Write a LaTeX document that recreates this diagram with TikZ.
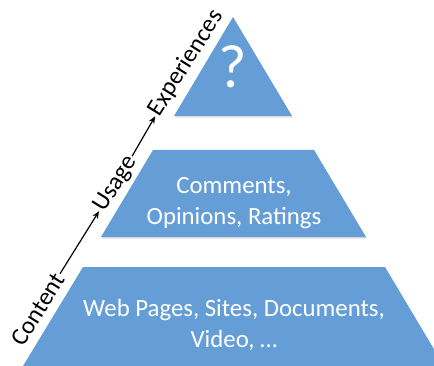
\documentclass[tikz,border=0pt]{standalone}
\usepackage{fontspec}
\setmainfont{Carlito}
\usepackage{xcolor}
\usetikzlibrary{arrows.meta, shadows}
\definecolor{tierblue}{RGB}{101,158,215}

\begin{document}
\begin{tikzpicture}[
    x=0.75pt, y=-0.75pt,
    tier/.style={fill=tierblue, draw=none, drop shadow={opacity=0.25, shadow xshift=0.6pt, shadow yshift=-1.2pt}},
    tiertext/.style={text=white, align=center, font=\fontsize{18.6}{23}\selectfont},
    steplabel/.style={rotate=58, inner sep=1pt, font=\fontsize{18.5}{22}\selectfont},
    arrow/.style={-{Stealth[length=5.5pt, width=4.5pt]}, line width=0.9pt}
]
\clip (0,0) rectangle (434,366);
% pyramid tiers
\path[tier] (233,17) -- (292,116) -- (174,116) -- cycle;
\path[tier] (153,150) -- (314,150) -- (366,237) -- (101,237) -- cycle;
\path[tier] (83,267) -- (385,267) -- (444,366) -- (23,366) -- cycle;
\node[tiertext, font=\fontsize{46}{50}\selectfont] (top) at (233,67) {?};
\node[tiertext] (mid) at (234,203) {Comments,\\Opinions, Ratings};
\node[tiertext] (base) at (234,325) {Web Pages, Sites, Documents,\\Video, …};
% side labels
\node[steplabel] (content) at (38,309) {Content};
\node[steplabel] (usage) at (116,184) {Usage};
\node[steplabel] (exper) at (186,63) {Experiences};
\draw[arrow] (content) -- (usage);
\draw[arrow] (usage) -- (exper);
\end{tikzpicture}
\end{document}
